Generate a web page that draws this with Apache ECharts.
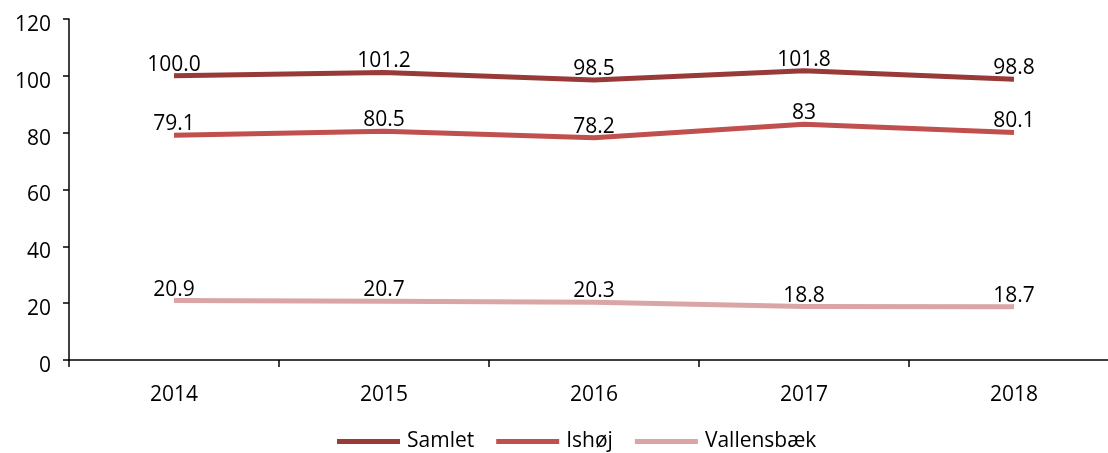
<!DOCTYPE html>
<html>
<head>
<meta charset="utf-8">
<script src="https://cdn.jsdelivr.net/npm/echarts@6/dist/echarts.min.js"></script>
<style>html,body{margin:0;padding:0;background:#fff}#c{width:1108px;height:453px}</style>
</head>
<body>
<div id="c"></div>
<script>
const categories = ['2014', '2015', '2016', '2017', '2018'];
const samlet = [100.0, 101.2, 98.5, 101.8, 98.8];
const ishoj = [79.1, 80.5, 78.2, 83, 80.1];
const vallensbaek = [20.9, 20.7, 20.3, 18.8, 18.7];
const samletLabels = ['100.0', '101.2', '98.5', '101.8', '98.8'];
const ishojLabels = ['79.1', '80.5', '78.2', '83', '80.1'];
const vallensbaekLabels = ['20.9', '20.7', '20.3', '18.8', '18.7'];

const FONT = '"Open Sans", "Liberation Sans", sans-serif';
const COLORS = {Samlet: '#983A38', 'Ishøj': '#C0504D', 'Vallensbæk': '#D9A6A5'};
const chart = echarts.init(document.getElementById('c'), null, {renderer: 'canvas'});

function mk(name, data, labels) {
  const color = COLORS[name];
  return {
    name: name,
    type: 'line',
    data: data,
    symbol: 'circle',
    symbolSize: 1,
    showSymbol: true,
    clip: false,
    lineStyle: {color: color, width: 5, join: 'round', cap: 'butt'},
    itemStyle: {color: color, opacity: 0},
    label: {
      show: true,
      position: 'top',
      distance: 0,
      offset: [-10, 0],
      color: '#000',
      opacity: 1,
      fontFamily: FONT,
      fontSize: 21,
      formatter: p => labels[p.dataIndex]
    },
    labelLayout: {hideOverlap: false}
  };
}

chart.setOption({
  animation: false,
  grid: {left: 69, top: 19, right: -11, bottom: 93, containLabel: false, outerBoundsMode: 'none'},
  xAxis: {
    type: 'category',
    data: categories,
    boundaryGap: true,
    axisLine: {lineStyle: {color: '#000', width: 1.5}},
    axisTick: {show: true, length: 7, inside: false, lineStyle: {color: '#000', width: 1.5}},
    axisLabel: {color: '#000', fontFamily: FONT, fontSize: 21, margin: 25}
  },
  yAxis: {
    type: 'value',
    min: 0, max: 120, interval: 20,
    splitLine: {show: false},
    axisLine: {show: true, lineStyle: {color: '#000', width: 1.5}},
    axisTick: {show: true, length: 6, lineStyle: {color: '#000', width: 1.5}},
    axisLabel: {
      color: '#000', fontFamily: FONT, fontSize: 21, margin: 18,
      formatter: v => '{a|' + v + '}',
      rich: {a: {fontFamily: FONT, fontSize: 21, color: '#000', padding: [12, 0, 0, 0]}}
    }
  },
  legend: {
    top: 426,
    left: 332,
    itemWidth: 63,
    itemHeight: 5,
    itemGap: 22,
    icon: 'rect',
    textStyle: {color: '#000', fontFamily: FONT, fontSize: 21, padding: [0, 0, 0, 2]},
    data: Object.keys(COLORS).map(n => ({name: n, icon: 'rect', itemStyle: {color: COLORS[n], opacity: 1}}))
  },
  series: [
    mk('Samlet', samlet, samletLabels),
    mk('Ishøj', ishoj, ishojLabels),
    mk('Vallensbæk', vallensbaek, vallensbaekLabels)
  ]
});
</script>
</body>
</html>
